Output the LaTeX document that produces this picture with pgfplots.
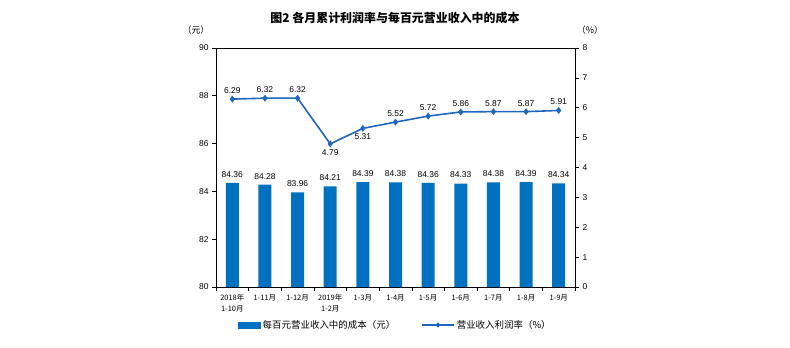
\documentclass[border=0pt]{standalone}
\usepackage{pgfplots}
\pgfplotsset{compat=1.18}
\usepackage{fontspec}
\setmainfont{Liberation Sans}
\newfontfamily\cjk{Noto Sans CJK SC}
\definecolor{barblue}{RGB}{0,112,192}
\definecolor{lineblue}{RGB}{31,102,190}
\begin{document}
\begin{tikzpicture}[x=1bp,y=1bp]
\path[use as bounding box] (0,0) rectangle (790,347);
\node[font=\cjk\bfseries\fontsize{12}{14}\selectfont] at (395,329) {图2\ 各月累计利润率与每百元营业收入中的成本};
\node[font=\cjk\fontsize{9}{10}\selectfont] at (196,317) {（元）};
\node[font=\cjk\fontsize{9}{10}\selectfont] at (590,317) {（\%）};
\begin{axis}[
  at={(216bp,60bp)}, anchor=south west, scale only axis,
  width=359bp, height=239bp,
  xmin=-0.5, xmax=10.5, ymin=80, ymax=90,
  ytick={80,82,...,90}, ytick pos=left, xtick pos=bottom,
  tick align=outside, major tick length=4bp,
  xtick={0,...,10},
  xticklabels={{2018年\\1-10月},{1-11月},{1-12月},{2019年\\1-2月},{1-3月},{1-4月},{1-5月},{1-6月},{1-7月},{1-8月},{1-9月}},
  major x tick style={draw=none},
  minor xtick={-0.5,0.5,...,10.5}, minor tick length=4bp,
  minor x tick style={black},
  xticklabel style={align=center, font=\cjk\fontsize{7.5}{11}\selectfont, yshift=0bp},
  yticklabel style={font=\fontsize{8.5}{9}\selectfont},
  /pgf/number format/assume math mode=true,
  axis line style={black, line width=0.8bp},
  every tick/.style={black, line width=0.6bp},
]
\addplot[ybar, bar width=13bp, fill=barblue, draw=none,
  nodes near coords={\pgfmathprintnumber[fixed,fixed zerofill,precision=2,assume math mode=true]{\pgfplotspointmeta}},
  every node near coord/.append style={font=\fontsize{8.5}{10}\selectfont, black, yshift=2bp}]
coordinates {(0,84.36) (1,84.28) (2,83.96) (3,84.21) (4,84.39) (5,84.38) (6,84.36) (7,84.33) (8,84.38) (9,84.39) (10,84.34)};
\end{axis}
\begin{axis}[
  at={(216bp,60bp)}, anchor=south west, scale only axis,
  width=359bp, height=239bp,
  xmin=-0.5, xmax=10.5, ymin=0, ymax=8,
  ytick={0,...,8}, axis y line*=right, axis x line=none,
  tick align=outside, major tick length=4bp,
  yticklabel style={font=\fontsize{8.5}{9}\selectfont},
  /pgf/number format/assume math mode=true,
  axis line style={black, line width=0.8bp},
  every tick/.style={black, line width=0.6bp},
  legend style={at={(0.5,-0.159)}, anchor=center, draw=none, fill=none,
    font=\cjk\fontsize{9.5}{10}\selectfont,
    /tikz/every even column/.append style={column sep=24bp}},
  legend columns=2,
]
\addlegendimage{legend image code/.code={\fill[barblue] (0bp,-3bp) rectangle (22bp,3bp);}}
\addlegendentry{每百元营业收入中的成本（元）}
\addplot[lineblue, line width=1.6bp, mark=diamond*, mark size=2.2bp,
  legend image code/.code={\draw[lineblue, line width=1.6bp] (0bp,0bp) -- (32bp,0bp); \fill[lineblue] (16bp,0bp) circle (1.6bp);}]
coordinates {(0,6.29) (1,6.32) (2,6.32) (3,4.79) (4,5.31) (5,5.52) (6,5.72) (7,5.86) (8,5.87) (9,5.87) (10,5.91)};
\addlegendentry{营业收入利润率（\%）}
\addplot[draw=none, mark=none, forget plot,
  nodes near coords={\pgfmathprintnumber[fixed,fixed zerofill,precision=2,assume math mode=true]{\pgfplotspointmeta}},
  every node near coord/.append style={font=\fontsize{8.5}{10}\selectfont, black, yshift=2bp}]
coordinates {(0,6.29) (1,6.32) (2,6.32) (5,5.52) (6,5.72) (7,5.86) (8,5.87) (9,5.87) (10,5.91)};
\addplot[draw=none, mark=none, forget plot,
  nodes near coords={\pgfmathprintnumber[fixed,fixed zerofill,precision=2,assume math mode=true]{\pgfplotspointmeta}},
  nodes near coords align={below},
  every node near coord/.append style={font=\fontsize{8.5}{10}\selectfont, black, yshift=-2bp}]
coordinates {(3,4.79) (4,5.31)};
\end{axis}
\end{tikzpicture}
\end{document}
